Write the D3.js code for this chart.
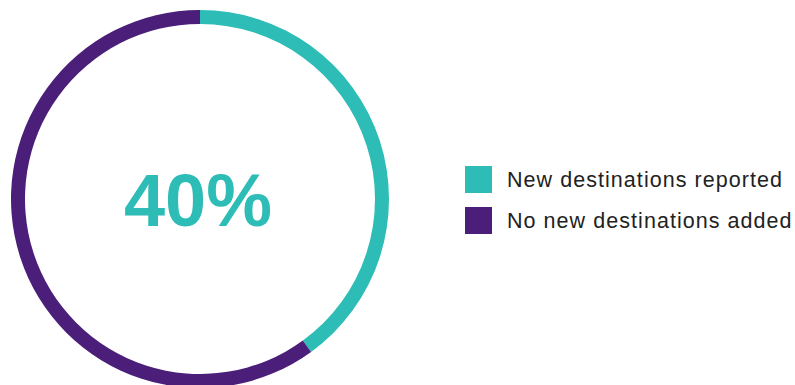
<!DOCTYPE html>
<html>
<head>
<meta charset="utf-8">
<script src="https://cdn.jsdelivr.net/npm/d3@7"></script>
<style>
  html, body { margin: 0; padding: 0; background: #fff; }
  svg { display: block; }
</style>
</head>
<body>
<svg id="chart" width="795" height="385"></svg>
<script>
// Share of respondents by destination status
const categories = ["New destinations reported", "No new destinations added"];
const values = [40, 60];
const colors = ["#2ebdb6", "#4a1e79"];
const centerLabel = "40%";

const svg = d3.select("#chart");
const cx = 200, cy = 199;
const outerR = 189, innerR = 175;

const pie = d3.pie().sort(null).value(d => d.value);
const arc = d3.arc().innerRadius(innerR).outerRadius(outerR);
const color = d3.scaleOrdinal().domain(categories).range(colors);

const data = categories.map((c, i) => ({ name: c, value: values[i] }));

const g = svg.append("g").attr("transform", `translate(${cx},${cy})`);
g.selectAll("path")
  .data(pie(data))
  .join("path")
  .attr("d", arc)
  .attr("fill", d => color(d.data.name));

g.append("text")
  .attr("x", -2)
  .attr("y", 27)
  .attr("text-anchor", "middle")
  .attr("font-family", "Liberation Sans, Arial, sans-serif")
  .attr("font-weight", "bold")
  .attr("font-size", 74)
  .attr("fill", colors[0])
  .text(centerLabel);

// Legend
const legend = svg.append("g").attr("transform", "translate(465,166)");
const item = legend.selectAll("g")
  .data(categories)
  .join("g")
  .attr("transform", (d, i) => `translate(0,${i * 41})`);
item.append("rect")
  .attr("width", 27)
  .attr("height", 27)
  .attr("fill", d => color(d));
item.append("text")
  .attr("x", 42)
  .attr("y", 21)
  .attr("font-family", "Liberation Sans, Arial, sans-serif")
  .attr("font-size", 21.5)
  .attr("letter-spacing", 1.05)
  .attr("fill", "#222")
  .text(d => d);
</script>
</body>
</html>
